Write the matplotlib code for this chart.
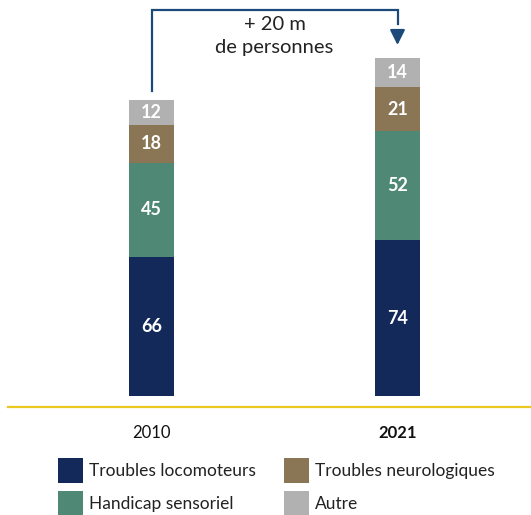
import matplotlib.pyplot as plt
import numpy as np

years = ['2010', '2021']
categories = ['Troubles locomoteurs', 'Handicap sensoriel', 'Troubles neurologiques', 'Autre']
values = {
    'Troubles locomoteurs': [66, 74],
    'Handicap sensoriel': [45, 52],
    'Troubles neurologiques': [18, 21],
    'Autre': [12, 14],
}
colors = {
    'Troubles locomoteurs': '#13295a',
    'Handicap sensoriel': '#4f8976',
    'Troubles neurologiques': '#8a7654',
    'Autre': '#b1b1b1',
}

plt.rcParams['font.family'] = ['Lato', 'DejaVu Sans']

W, H = 531, 515
fig = plt.figure(figsize=(W / 100, H / 100), dpi=100)
ax = fig.add_axes([0, 0, 1, 1])
ax.axis('off')

# pixel geometry -> data limits (bar centres at px 151.5 / 397.5, baseline px 395.7)
ppu = 2.1
x0, dx = 151.5, 246.0
base = 395.7
ax.set_xlim(-x0 / dx, (W - x0) / dx)
ax.set_ylim(-(H - base) / ppu, base / ppu)

x = np.arange(len(years))
bottom = np.zeros(len(years))
handles = {}
for cat in categories:
    v = np.array(values[cat])
    b = ax.bar(x, v, bottom=bottom, width=45 / dx, color=colors[cat], label=cat)
    handles[cat] = b
    for xi, vi, bi in zip(x, v, bottom):
        ax.text(xi, bi + vi / 2, str(vi), ha='center', va='center',
                color='white', fontsize=13, fontweight='bold')
    bottom += v

totals = bottom
# arrow from 2010 to 2021
top_y = (base - 10) / ppu
ax.plot([0, 0, 1, 1], [totals[0] + 4, top_y, top_y, totals[1] + 16],
        color='#1b4a7a', lw=1.6, solid_joinstyle='miter')
ax.annotate('', xy=(1, totals[1] + 6), xytext=(1, totals[1] + 12),
            arrowprops=dict(arrowstyle='-|>,head_width=0.45,head_length=0.9',
                            color='#1b4a7a', lw=1.6, shrinkA=0, shrinkB=0))
ax.text(0.5, (base - 25) / ppu, '+ 20 m', ha='center', va='center',
        fontsize=14.5, color='#222222')
ax.text(0.5, (base - 48) / ppu, 'de personnes', ha='center', va='center',
        fontsize=14.5, color='#222222')

# yellow baseline
ax.axhline((base - 407) / ppu, xmin=8 / W, xmax=1, color='#e8c81e', lw=1.6)

# year labels
ylab = (base - 433) / ppu
ax.text(0, ylab, years[0], ha='center', va='center', fontsize=12, color='#111111')
ax.text(1, ylab, years[1], ha='center', va='center', fontsize=12,
        fontweight='bold', color='#111111')

fig.legend([handles[c] for c in categories], categories, ncol=2,
           loc='upper left', bbox_to_anchor=(58 / W, 1 - 458 / H),
           frameon=False, fontsize=12.5, borderpad=0, borderaxespad=0,
           handlelength=1.44, handleheight=1.84, handletextpad=0.35,
           columnspacing=1.6, labelspacing=0.47, labelcolor='#222222')

fig.savefig('out.png', dpi=100)
